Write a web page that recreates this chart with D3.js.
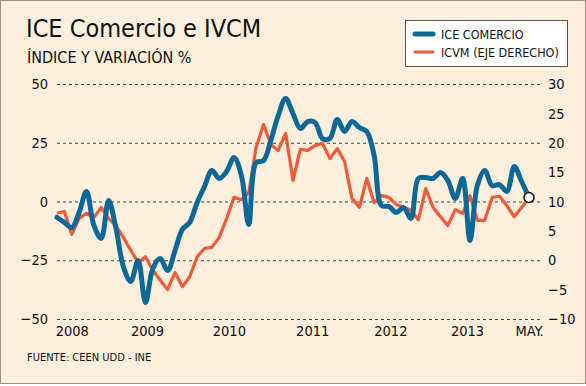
<!DOCTYPE html>
<html>
<head>
<meta charset="utf-8">
<script src="https://cdn.jsdelivr.net/npm/d3@7"></script>
<style>
  body { margin: 0; background: #fff; }
  svg text { font-family: "DejaVu Sans Condensed", "DejaVu Sans", sans-serif; fill: #111; }
</style>
</head>
<body>
<svg id="chart" width="586" height="386"></svg>
<script>
// monthly index 0 = ene 2008 ... 64 = may 2013
var ice = [-6.8, -8.9, -11.1, -4.7, 4.3, -10.2, -15.7, 0.4, -11.5, -27.7, -34.0, -25.1, -43.0,
    -28.5, -24.3, -29.4, -20.9, -11.9, -8.9, -0.4, 6.4, 13.2, 9.8, 12.8, 18.7, 11.1, -9.8,
    16.6, 17.4, 26.0, 36.6, 43.8, 37.4, 31.1, 34.0, 33.6, 26.8, 26.8, 34.9, 29.8, 34.0,
    31.5, 29.8, 19.6, -1.7, -2.1, -4.7, -2.6, -7.2, 9.8, 10.2, 9.8, 12.3, 8.9, 1.3, 9.8,
    -16.6, 6.8, 13.2, 6.8, 7.2, 4.3, 14.9, 8.5, 1.7];
var ivcm = [8.0, 8.3, 4.4, 7.1, 8.0, 7.3, 9.0, 7.1, 5.9, 3.9, 1.7, -0.4, 0.6, -1.7, -3.4,
    -5.0, -2.1, -4.5, -2.8, 0.6, 2.0, 2.2, 3.9, 7.1, 10.7, 10.3, 11.5, 19.2, 23.1, 19.7,
    18.7, 21.6, 13.6, 18.9, 18.7, 19.5, 19.9, 17.3, 19.0, 16.8, 10.5, 9.0, 13.9, 9.8, 11.0,
    10.7, 9.5, 9.0, 8.5, 6.9, 12.2, 9.0, 7.4, 5.9, 8.6, 8.0, 11.0, 6.8, 6.8, 10.7, 10.9,
    9.3, 7.4, 9.0, 10.5];

var leftTicks = [50, 25, 0, -25, -50];
var rightTicks = [30, 25, 20, 15, 10, 5, 0, -5, -10];
var xTickPos = [2, 12.2, 23.3, 34.6, 45.2, 55.6, 64];
var xTickLabels = ["2008", "2009", "2010", "2011", "2012", "2013", "MAY."];

var blue = "#0b6898";
var orange = "#ef5b38";

var svg = d3.select("#chart");

svg.append("rect")
    .attr("x", 0.5).attr("y", 0.5)
    .attr("width", 585).attr("height", 383)
    .attr("fill", "#fcefdd")
    .attr("stroke", "#a08b80");

var x = d3.scaleLinear().domain([0, ice.length - 1]).range([57, 529]);
var yL = d3.scaleLinear().domain([-50, 50]).range([319, 84]);
var yR = d3.scaleLinear().domain([-10, 30]).range([319, 84]);

// titles
svg.append("text").attr("x", 26).attr("y", 37)
    .style("font-size", "25px").text("ICE Comercio e IVCM");
svg.append("text").attr("x", 27).attr("y", 63)
    .style("font-size", "16px").text("ÍNDICE Y VARIACIÓN %");

// grid lines
svg.append("g").selectAll("line").data(leftTicks).enter()
    .append("line")
    .attr("x1", 57).attr("x2", 540)
    .attr("y1", d => yL(d) + 0.5).attr("y2", d => yL(d) + 0.5)
    .attr("stroke", "#444")
    .attr("stroke-width", 1)
    .attr("stroke-dasharray", "3,3");

// axes
var axL = svg.append("g").attr("transform", "translate(57,0)")
    .call(d3.axisLeft(yL).tickValues(leftTicks).tickSize(0).tickPadding(9));
var axR = svg.append("g").attr("transform", "translate(540,0)")
    .call(d3.axisRight(yR).tickValues(rightTicks).tickSize(0).tickPadding(8));
var axB = svg.append("g").attr("transform", "translate(0,326)")
    .call(d3.axisBottom(x).tickValues(xTickPos).tickSize(0).tickPadding(0)
        .tickFormat((d, i) => xTickLabels[i]));

[axL, axR, axB].forEach(function(g) {
    g.select(".domain").remove();
    g.selectAll("text")
        .style("font-family", "'DejaVu Sans Condensed'")
        .style("font-size", "14.5px")
        .attr("fill", "#111");
});

// lines
var lineR = d3.line()
    .x((d, i) => x(i))
    .y(d => yR(d));

var lineL = d3.line()
    .x((d, i) => x(i))
    .y(d => yL(d))
    .curve(d3.curveCatmullRom.alpha(0.5));

svg.append("path").datum(ivcm)
    .attr("d", lineR)
    .attr("fill", "none")
    .attr("stroke", orange)
    .attr("stroke-width", 3.2)
    .attr("stroke-linejoin", "round");

svg.append("path").datum(ice)
    .attr("d", lineL)
    .attr("fill", "none")
    .attr("stroke", blue)
    .attr("stroke-width", 5)
    .attr("stroke-linejoin", "round")
    .attr("stroke-linecap", "round");

svg.append("circle")
    .attr("cx", x(ice.length - 1))
    .attr("cy", yL(ice[ice.length - 1]))
    .attr("r", 5)
    .attr("fill", "#fff")
    .attr("stroke", "#111")
    .attr("stroke-width", 1.5);

// legend
var lg = svg.append("g");
lg.append("rect")
    .attr("x", 405.5).attr("y", 20.5)
    .attr("width", 162).attr("height", 46)
    .attr("fill", "#fff")
    .attr("stroke", "#555");
var items = [["ICE COMERCIO", blue, 5], ["ICVM (EJE DERECHO)", orange, 3.2]];
items.forEach(function(it, i) {
    var yy = 34 + i * 18;
    lg.append("line")
        .attr("x1", 415).attr("x2", 433)
        .attr("y1", yy).attr("y2", yy)
        .attr("stroke", it[1])
        .attr("stroke-width", it[2])
        .attr("stroke-linecap", "round");
    lg.append("text")
        .attr("x", 441).attr("y", yy + 4.5)
        .style("font-size", "12.5px")
        .text(it[0]);
});

// source
svg.append("text").attr("x", 27).attr("y", 361)
    .style("font-size", "11px")
    .text("FUENTE: CEEN UDD - INE");
</script>
</body>
</html>
